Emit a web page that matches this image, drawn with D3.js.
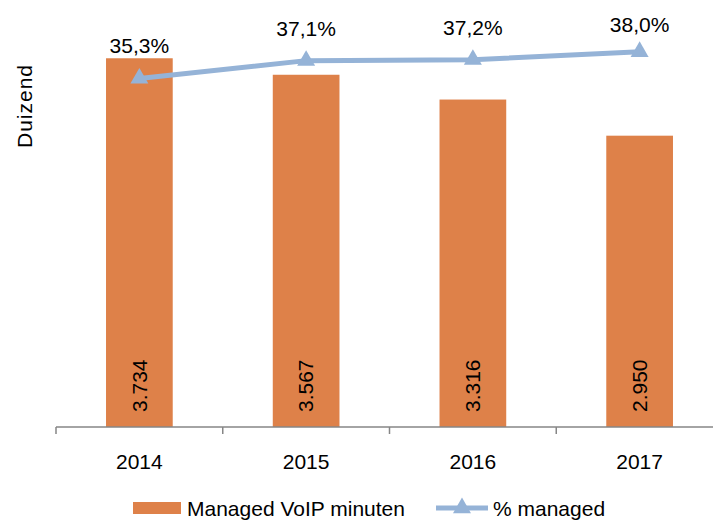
<!DOCTYPE html>
<html>
<head>
<meta charset="utf-8">
<script src="https://cdn.jsdelivr.net/npm/d3@7"></script>
<style>
  body { margin: 0; background: #fff; }
  text { font-family: "Liberation Sans", Arial, sans-serif; fill: #000; }
</style>
</head>
<body>
<script>
// data
var years = ["2014", "2015", "2016", "2017"];
var minuten = [3734, 3567, 3316, 2950];
var minutenLabels = ["3.734", "3.567", "3.316", "2.950"];
var managed = [35.3, 37.1, 37.2, 38.0];
var managedLabels = ["35,3%", "37,1%", "37,2%", "38,0%"];

var width = 713;
var height = 522;
var orange = "#DE8149";
var blue = "#95B3D7";
var axisGrey = "#868686";

var svg = d3.select("body").append("svg")
    .attr("width", width)
    .attr("height", height);

var x = d3.scaleBand()
    .domain(years)
    .range([56, 723])
    .paddingInner(0.6)
    .paddingOuter(0.3);

var y = d3.scaleLinear()
    .domain([0, 4000])
    .range([427, 32]);

var y2 = d3.scaleLinear()
    .domain([0, 40])
    .range([427, 32]);

// bars
svg.selectAll("rect.bar")
    .data(years)
    .enter().append("rect")
    .attr("class", "bar")
    .attr("x", function(d) { return x(d); })
    .attr("y", function(d, i) { return y(minuten[i]); })
    .attr("width", x.bandwidth())
    .attr("height", function(d, i) { return y(0) - y(minuten[i]); })
    .attr("fill", orange);

// value labels in bars
svg.selectAll("text.barlabel")
    .data(years)
    .enter().append("text")
    .attr("class", "barlabel")
    .attr("transform", function(d) {
        return "translate(" + (x(d) + x.bandwidth() / 2) + ",412) rotate(-90)";
    })
    .attr("dy", "0.35em")
    .style("font-size", "21px")
    .text(function(d, i) { return minutenLabels[i]; });

// x axis line + ticks at category boundaries
svg.append("line")
    .attr("x1", 56).attr("x2", width)
    .attr("y1", y(0)).attr("y2", y(0))
    .attr("stroke", axisGrey).attr("stroke-width", 1.5);

var step = x.step();
var tickPos = years.map(function(d) { return x(d) + x.bandwidth() / 2 - step / 2; });
tickPos.push(tickPos[tickPos.length - 1] + step);
svg.selectAll("line.tick")
    .data(tickPos)
    .enter().append("line")
    .attr("class", "tick")
    .attr("x1", function(d) { return d; })
    .attr("x2", function(d) { return d; })
    .attr("y1", y(0)).attr("y2", y(0) + 7)
    .attr("stroke", axisGrey).attr("stroke-width", 1.5);

svg.selectAll("text.year")
    .data(years)
    .enter().append("text")
    .attr("class", "year")
    .attr("x", function(d) { return x(d) + x.bandwidth() / 2; })
    .attr("y", 469)
    .attr("text-anchor", "middle")
    .style("font-size", "21px")
    .text(function(d) { return d; });

// y axis title
svg.append("text")
    .attr("transform", "translate(32,106) rotate(-90)")
    .attr("text-anchor", "middle")
    .style("font-size", "21px")
    .style("letter-spacing", "1px")
    .text("Duizend");

// line series
var line = d3.line()
    .x(function(d, i) { return x(years[i]) + x.bandwidth() / 2; })
    .y(function(d) { return y2(d); });

svg.append("path")
    .datum(managed)
    .attr("d", line)
    .attr("fill", "none")
    .attr("stroke", blue)
    .attr("stroke-width", 5);

var tri = d3.symbol().type(d3.symbolTriangle).size(140);

svg.selectAll("path.marker")
    .data(managed)
    .enter().append("path")
    .attr("class", "marker")
    .attr("d", tri)
    .attr("transform", function(d, i) {
        return "translate(" + (x(years[i]) + x.bandwidth() / 2) + "," + y2(d) + ")";
    })
    .attr("fill", blue);

svg.selectAll("text.pct")
    .data(managed)
    .enter().append("text")
    .attr("class", "pct")
    .attr("x", function(d, i) { return x(years[i]) + x.bandwidth() / 2; })
    .attr("y", function(d) { return Math.max(y2(d) - 25, 32); })
    .attr("text-anchor", "middle")
    .style("font-size", "21px")
    .text(function(d, i) { return managedLabels[i]; });

// legend
svg.append("rect")
    .attr("x", 133).attr("y", 502)
    .attr("width", 48).attr("height", 12)
    .attr("fill", orange);
svg.append("text")
    .attr("x", 187).attr("y", 516)
    .style("font-size", "21px")
    .text("Managed VoIP minuten");

svg.append("line")
    .attr("x1", 436).attr("x2", 488)
    .attr("y1", 508).attr("y2", 508)
    .attr("stroke", blue).attr("stroke-width", 5);
svg.append("path")
    .attr("d", tri)
    .attr("transform", "translate(462,508)")
    .attr("fill", blue);
svg.append("text")
    .attr("x", 493).attr("y", 516)
    .style("font-size", "21px")
    .text("% managed");
</script>
</body>
</html>
